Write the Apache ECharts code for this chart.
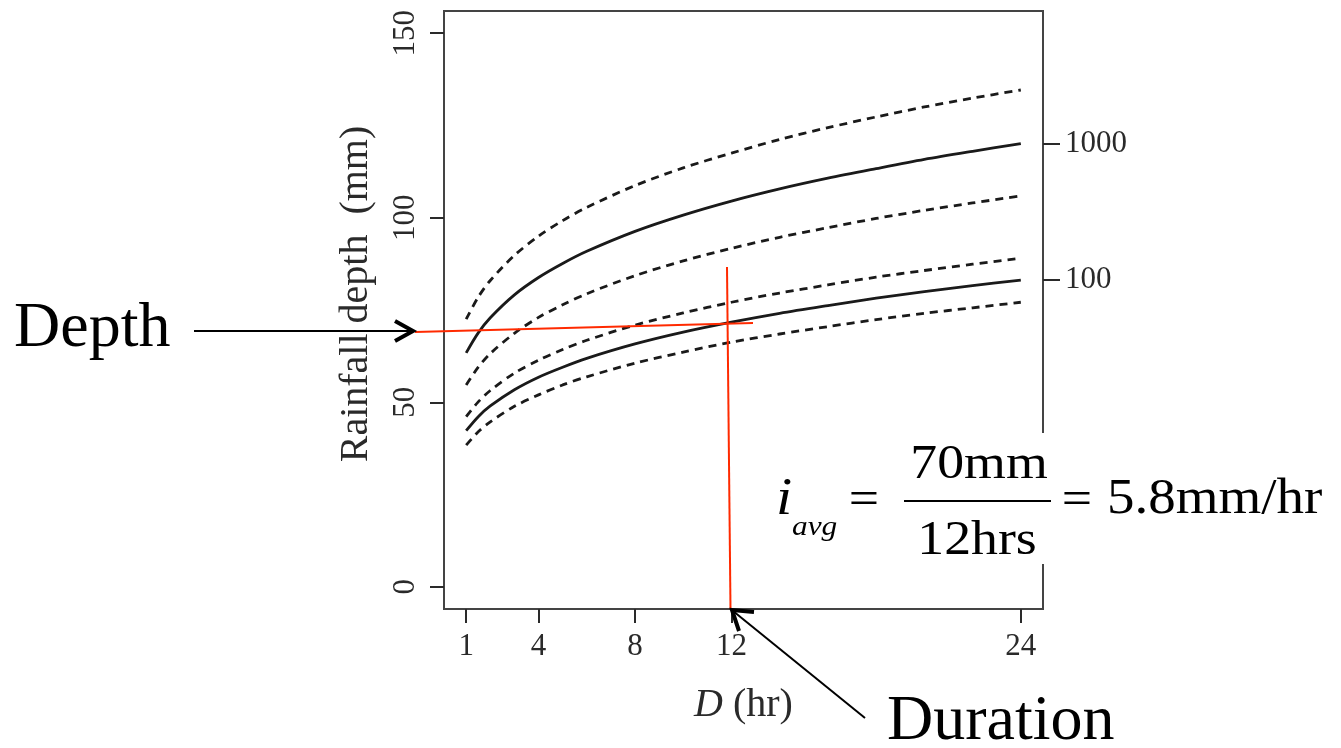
<!DOCTYPE html>
<html>
<head>
<meta charset="utf-8">
<script src="https://cdn.jsdelivr.net/npm/echarts@6/dist/echarts.min.js"></script>
<style>
  html, body { margin: 0; padding: 0; background: #fff; }
  #chart { width: 1341px; height: 748px; }
</style>
</head>
<body>
<div id="chart"></div>
<script>
// durations (hr) and depths (mm)
const durations = [1, 1.5, 2, 3, 4, 5, 6, 8, 10, 12, 14, 16, 18, 20, 22, 24];
const depth1000Upper = [72.5, 78.5, 83.0, 89.8, 95.0, 99.2, 102.8, 108.7, 113.5, 117.5, 121.2, 124.4, 127.3, 130.0, 132.4, 134.6];
const depth1000 = [63.4, 68.8, 72.9, 79.1, 83.8, 87.6, 90.9, 96.3, 100.7, 104.5, 107.8, 110.7, 113.3, 115.8, 118.0, 120.1];
const depth1000Lower = [54.7, 59.5, 63.2, 68.7, 73.0, 76.4, 79.4, 84.3, 88.3, 91.7, 94.7, 97.3, 99.8, 102.0, 104.0, 105.9];
const depth100Upper = [46.1, 50.1, 53.2, 57.9, 61.4, 64.3, 66.8, 70.9, 74.2, 77.1, 79.6, 81.8, 83.9, 85.7, 87.4, 89.0];
const depth100 = [42.3, 46.1, 49.0, 53.4, 56.8, 59.5, 61.9, 65.8, 69.0, 71.7, 74.1, 76.2, 78.2, 80.0, 81.6, 83.1];
const depth100Lower = [38.4, 42.0, 44.7, 48.9, 52.0, 54.7, 56.9, 60.6, 63.6, 66.3, 68.5, 70.5, 72.4, 74.1, 75.6, 77.1];

const xTicks = [1, 4, 8, 12, 24];
const yTicks = [0, 50, 100, 150];
const returnPeriods = ['100', '1000'];
const returnDepths = [depth100[depth100.length - 1], depth1000[depth1000.length - 1]];

const serif = "'Liberation Serif', 'DejaVu Serif', serif";
const ink = '#1a1a1a';
const axisInk = '#2a2a2a';
const red = '#ff2a00';

function curve(name, values, dashed) {
    return {
        type: 'line',
        name: name,
        data: durations.map((d, i) => [d, values[i]]),
        smooth: 0.3,
        symbol: 'none',
        silent: true,
        lineStyle: { color: ink, width: 2.8, type: dashed ? [8, 6] : 'solid' }
    };
}

const myChart = echarts.init(document.getElementById('chart'));

const option = {
    animation: false,
    backgroundColor: '#fff',
    grid: {
        left: 444, top: 11, width: 599, height: 598,
        show: true, borderColor: '#444', borderWidth: 2, backgroundColor: 'transparent'
    },
    xAxis: {
        type: 'value', min: 0.08, max: 24.92,
        name: '{it|D} (hr)',
        nameLocation: 'middle',
        nameGap: 76,
        nameTextStyle: {
            fontFamily: serif, fontSize: 40, color: axisInk,
            rich: { it: { fontFamily: serif, fontSize: 40, fontStyle: 'italic', color: axisInk } }
        },
        axisLine: { show: false, onZero: false },
        axisTick: { show: true, length: 14, customValues: xTicks, lineStyle: { color: axisInk, width: 2 } },
        axisLabel: { customValues: xTicks, margin: 22, fontFamily: serif, fontSize: 31, color: axisInk },
        splitLine: { show: false }
    },
    yAxis: [{
        type: 'value', min: -6, max: 156, position: 'left',
        axisLine: { show: false, onZero: false },
        axisTick: { show: true, length: 14, customValues: yTicks, lineStyle: { color: axisInk, width: 2 } },
        axisLabel: { customValues: yTicks, rotate: 90, margin: 23, fontFamily: serif, fontSize: 31, color: axisInk },
        splitLine: { show: false }
    }, {
        type: 'value', min: -6, max: 156, position: 'right',
        axisLine: { show: false, onZero: false },
        axisTick: { show: true, length: 17, customValues: returnDepths, lineStyle: { color: axisInk, width: 2 } },
        axisLabel: {
            customValues: returnDepths, margin: 22, fontFamily: serif, fontSize: 31, color: axisInk,
            formatter: v => returnPeriods[returnDepths.indexOf(v)] || ''
        },
        splitLine: { show: false }
    }],
    series: [
        curve('1000 upper', depth1000Upper, true),
        curve('1000', depth1000, false),
        curve('1000 lower', depth1000Lower, true),
        curve('100 upper', depth100Upper, true),
        curve('100', depth100, false),
        curve('100 lower', depth100Lower, true)
    ],
    graphic: [
        // y axis title
        {
            type: 'text', x: 356, y: 294, rotation: Math.PI / 2,
            style: { text: 'Rainfall depth  (mm)', font: '40px ' + serif, fill: axisInk, textAlign: 'center', textVerticalAlign: 'middle' }
        },
        // red reading lines
        { type: 'line', z: 10, shape: { x1: 415, y1: 332, x2: 753, y2: 323 }, style: { stroke: red, lineWidth: 2 } },
        { type: 'line', z: 10, shape: { x1: 727, y1: 267, x2: 730.5, y2: 609 }, style: { stroke: red, lineWidth: 2 } },
        // Depth arrow
        { type: 'line', z: 10, shape: { x1: 194, y1: 331, x2: 412, y2: 331 }, style: { stroke: '#000', lineWidth: 2 } },
        { type: 'polyline', z: 10, shape: { points: [[395, 321], [413, 331], [395, 341]] }, style: { stroke: '#000', lineWidth: 4, fill: null, lineJoin: 'miter' } },
        { type: 'text', z: 10, x: 14, y: 329, style: { text: 'Depth', font: '64px ' + serif, fill: '#000', textAlign: 'left', textVerticalAlign: 'middle' } },
        // Duration arrow
        { type: 'line', z: 10, shape: { x1: 865, y1: 718, x2: 733, y2: 611 }, style: { stroke: '#000', lineWidth: 2 } },
        { type: 'polyline', z: 10, shape: { points: [[754, 612], [732, 610], [739, 631]] }, style: { stroke: '#000', lineWidth: 4, fill: null, lineJoin: 'miter' } },
        { type: 'text', z: 10, x: 887, y: 722, style: { text: 'Duration', font: '64px ' + serif, fill: '#000', textAlign: 'left', textVerticalAlign: 'middle' } },
        // formula box
        { type: 'rect', z: 20, shape: { x: 760, y: 433, width: 581, height: 131 }, style: { fill: '#fff' } },
        { type: 'text', z: 21, x: 776, y: 500, scaleX: 1.12, style: { text: 'i', font: 'italic 52px ' + serif, fill: '#000', textAlign: 'left', textVerticalAlign: 'middle' } },
        { type: 'text', z: 21, x: 792, y: 528, scaleX: 1.12, style: { text: 'avg', font: 'italic 28px ' + serif, fill: '#000', textAlign: 'left', textVerticalAlign: 'middle' } },
        { type: 'text', z: 21, x: 864, y: 501, scaleX: 1.12, style: { text: '=', font: '48px ' + serif, fill: '#000', textAlign: 'center', textVerticalAlign: 'middle' } },
        { type: 'line', z: 21, shape: { x1: 904, y1: 501, x2: 1051, y2: 501 }, style: { stroke: '#000', lineWidth: 2 } },
        { type: 'text', z: 21, x: 979, y: 465, scaleX: 1.12, style: { text: '70mm', font: '48px ' + serif, fill: '#000', textAlign: 'center', textVerticalAlign: 'middle' } },
        { type: 'text', z: 21, x: 977, y: 541, scaleX: 1.12, style: { text: '12hrs', font: '48px ' + serif, fill: '#000', textAlign: 'center', textVerticalAlign: 'middle' } },
        { type: 'text', z: 21, x: 1077, y: 501, scaleX: 1.12, style: { text: '=', font: '48px ' + serif, fill: '#000', textAlign: 'center', textVerticalAlign: 'middle' } },
        { type: 'text', z: 21, x: 1107, y: 500, scaleX: 1.1, style: { text: '5.8mm/hr', font: '50px ' + serif, fill: '#000', textAlign: 'left', textVerticalAlign: 'middle' } }
    ]
};

myChart.setOption(option);
</script>
</body>
</html>
